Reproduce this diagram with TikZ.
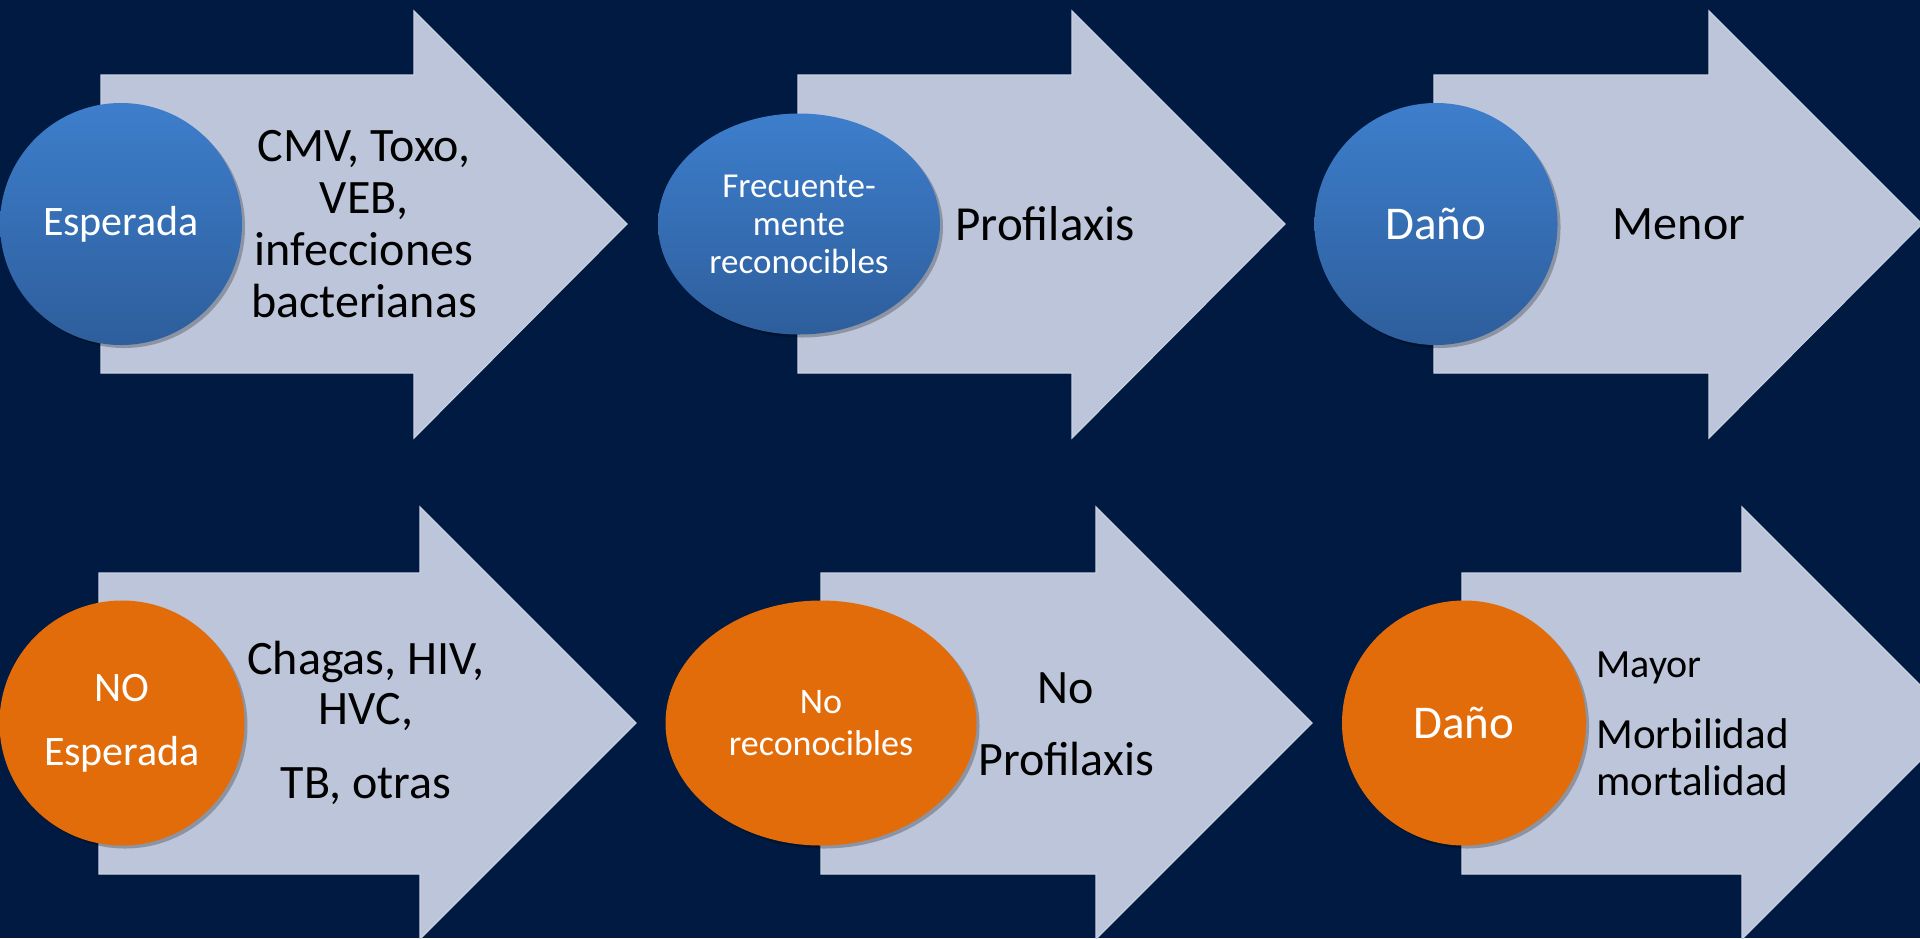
\documentclass[tikz,border=0pt]{standalone}
\usepackage{fontspec}
\setmainfont{Carlito}
\usetikzlibrary{shapes.geometric,shadows}
\definecolor{bg}{HTML}{001A41}
\definecolor{arrowfill}{HTML}{BCC5D9}
\definecolor{arrowline}{HTML}{C9D1E2}
\definecolor{bluetop}{HTML}{3D7ECC}
\definecolor{bluebot}{HTML}{2E5E9C}
\definecolor{orng}{HTML}{E36C0A}
\tikzset{
  bigarrow/.style={fill=arrowfill, draw=arrowline, line width=0.6pt},
  disc/.style={ellipse, inner sep=0pt, text=white, align=center,
    drop shadow={shadow xshift=1.5pt, shadow yshift=-1.5pt, opacity=0.25, fill=black}},
  bluedisc/.style={disc, top color=bluetop, bottom color=bluebot},
  orangedisc/.style={disc, fill=orng},
  arrowtext/.style={text=black, align=center, inner sep=0pt},
}
\begin{document}
\begin{tikzpicture}[x=0.5pt,y=-0.5pt]
\clip (0,0) rectangle (1920,938);
\fill[bg] (0,0) rectangle (1920,938);
% top row arrows
\draw[bigarrow] (101,75) -- (414,75) -- (414,11) -- (627,224) -- (414,438) -- (414,373) -- (101,373) -- cycle;
\draw[bigarrow] (798,75) -- (1072,75) -- (1072,11) -- (1285,224) -- (1072,438) -- (1072,373) -- (798,373) -- cycle;
\draw[bigarrow] (1434,75) -- (1709,75) -- (1709,11) -- (1922,224) -- (1709,438) -- (1709,373) -- (1434,373) -- cycle;
% bottom row arrows
\draw[bigarrow] (99,573) -- (420,573) -- (420,507) -- (636,723) -- (420,939) -- (420,874) -- (99,874) -- cycle;
\draw[bigarrow] (821,573) -- (1096,573) -- (1096,507) -- (1312,723) -- (1096,939) -- (1096,874) -- (821,874) -- cycle;
\draw[bigarrow] (1462,573) -- (1742,573) -- (1742,507) -- (1958,723) -- (1742,939) -- (1742,874) -- (1462,874) -- cycle;
% circles
\node[bluedisc, minimum width=121pt, minimum height=121pt, font=\fontsize{21}{25}\selectfont] (c1) at (121,224) {Esperada};
\node[bluedisc, minimum width=141pt, minimum height=110.5pt, font=\fontsize{17.5}{19}\selectfont] (c2) at (799,224) {Frecuente-\\mente\\reconocibles};
\node[bluedisc, minimum width=121.5pt, minimum height=121pt, font=\fontsize{23.5}{28}\selectfont] (c3) at (1436,224) {Daño};
\node[orangedisc, minimum width=122.5pt, minimum height=122.5pt, font=\fontsize{21}{32}\selectfont] (c4) at (122,723) {NO\\Esperada};
\node[orangedisc, minimum width=155.5pt, minimum height=122.5pt, font=\fontsize{18}{21}\selectfont] (c5) at (821,723) {No\\reconocibles};
\node[orangedisc, minimum width=122pt, minimum height=122.5pt, font=\fontsize{23.5}{28}\selectfont] (c6) at (1464,723) {Daño};
% texts
\node[arrowtext, font=\fontsize{24}{26}\selectfont] (t1) at (364,224) {CMV, Toxo,\\VEB,\\infecciones\\bacterianas};
\node[arrowtext, anchor=west, font=\fontsize{24.5}{28}\selectfont] (t2) at (955,224) {Profilaxis};
\node[arrowtext, font=\fontsize{24}{28}\selectfont] (t3) at (1679,224) {Menor};
\node[arrowtext, font=\fontsize{24}{25}\selectfont] (t4) at (366,723) {Chagas, HIV,\\HVC,\\[12pt]TB, otras};
\node[arrowtext, font=\fontsize{24}{36}\selectfont] (t5) at (1066,724) {No\\Profilaxis};
\node[arrowtext, anchor=west, font=\fontsize{20}{24}\selectfont] (t6) at (1596,668) {Mayor};
\node[arrowtext, anchor=west, align=left, font=\fontsize{21.5}{23.5}\selectfont] (t7) at (1596,757) {Morbilidad\\mortalidad};
\end{tikzpicture}
\end{document}
